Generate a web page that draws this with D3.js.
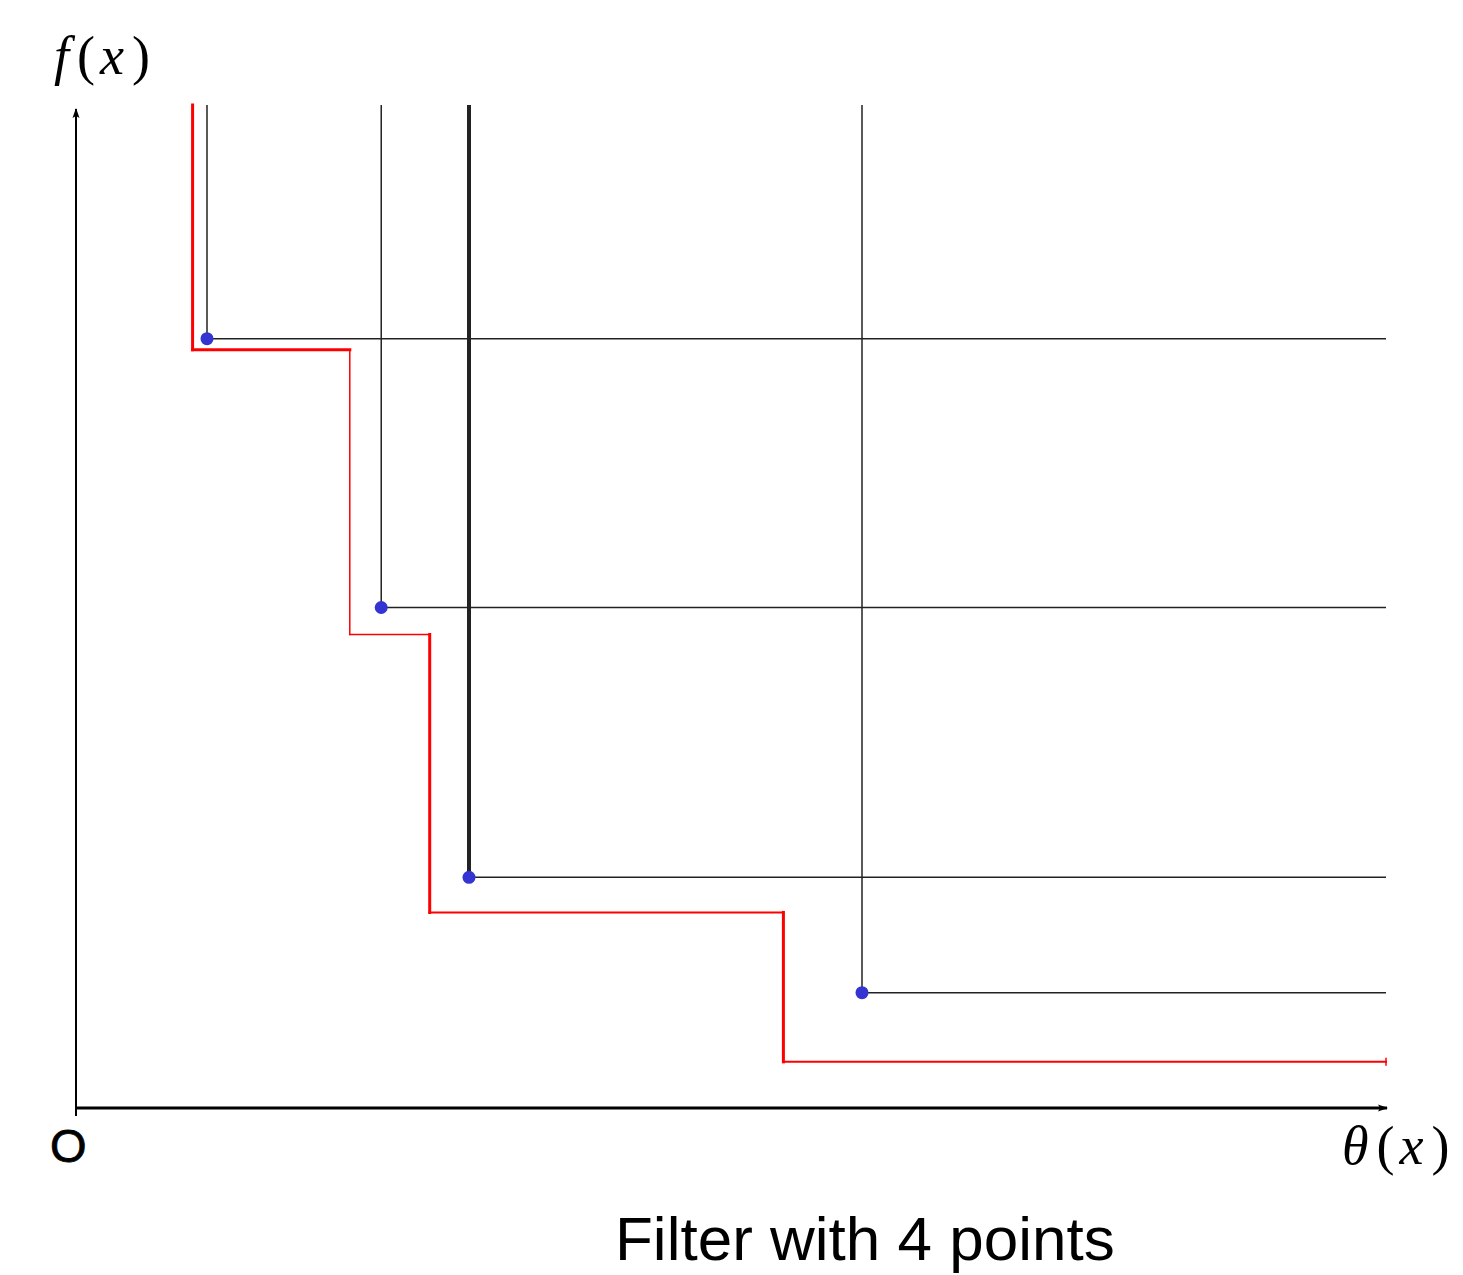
<!DOCTYPE html>
<html>
<head>
<meta charset="utf-8">
<script src="https://cdn.jsdelivr.net/npm/d3@7"></script>
<style>
  body { margin: 0; background: #fff; }
</style>
</head>
<body>
<div id="chart"></div>
<script>
// filter points (theta, f) in plot units
const pointTheta = [10, 23.3, 30, 60];
const pointF = [76.7, 49.9, 23.0, 11.5];
const pointStroke = [1.5, 1.5, 4, 1.5];

// red staircase (corner vertices)
const stepTheta = [8.9, 8.9, 20.9, 20.9, 27.0, 27.0, 54.0, 54.0, 100];
const stepF = [100, 75.6, 75.6, 47.2, 47.2, 19.5, 19.5, 4.6, 4.6];
const stepWidth = [3, 3, 1.5, 1.5, 3, 2, 3, 2];

const width = 1463, height = 1275;

const x = d3.scaleLinear().domain([0, 100]).range([76, 1386]);
const y = d3.scaleLinear().domain([0, 100]).range([1108, 105]);

const svg = d3.select("#chart").append("svg")
  .attr("width", width).attr("height", height);

svg.append("defs").append("marker")
  .attr("id", "arrow")
  .attr("viewBox", "0 0 10 8")
  .attr("refX", 9).attr("refY", 4)
  .attr("markerWidth", 10).attr("markerHeight", 8)
  .attr("markerUnits", "userSpaceOnUse")
  .attr("orient", "auto")
  .append("path").attr("d", "M0,0.5 L10,4 L0,7.5 L2,4 z").attr("fill", "#000");

// axes
svg.append("line")
  .attr("x1", x(0)).attr("y1", y(0) + 8)
  .attr("x2", x(0)).attr("y2", 109)
  .attr("stroke", "#000").attr("stroke-width", 2)
  .attr("marker-end", "url(#arrow)");
svg.append("line")
  .attr("x1", x(0)).attr("y1", y(0))
  .attr("x2", x(100) + 1).attr("y2", y(0))
  .attr("stroke", "#000").attr("stroke-width", 3)
  .attr("marker-end", "url(#arrow)");

// dominance lines from each point
const g = svg.append("g");
pointTheta.forEach((t, i) => {
  g.append("line")
    .attr("x1", x(t)).attr("y1", y(pointF[i]))
    .attr("x2", x(t)).attr("y2", y(100))
    .attr("stroke", "#222").attr("stroke-width", pointStroke[i]);
  g.append("line")
    .attr("x1", x(t)).attr("y1", y(pointF[i]))
    .attr("x2", x(100)).attr("y2", y(pointF[i]))
    .attr("stroke", "#222").attr("stroke-width", 1.5);
});

// red step
for (let i = 0; i < stepTheta.length - 1; i++) {
  svg.append("line")
    .attr("x1", x(stepTheta[i])).attr("y1", y(stepF[i]))
    .attr("x2", x(stepTheta[i + 1])).attr("y2", y(stepF[i + 1]))
    .attr("stroke", "#f00").attr("stroke-width", stepWidth[i])
    .attr("stroke-linecap", "square");
}
svg.append("line")
  .attr("x1", x(100)).attr("y1", y(4.6) - 4)
  .attr("x2", x(100)).attr("y2", y(4.6) + 4)
  .attr("stroke", "#f00").attr("stroke-width", 1.5);

// points
svg.selectAll("circle.pt")
  .data(pointTheta)
  .enter().append("circle")
    .attr("class", "pt")
    .attr("cx", d => x(d))
    .attr("cy", (d, i) => y(pointF[i]))
    .attr("r", 6.5)
    .attr("fill", "#3434d2");

// math labels: italic letters, upright parentheses
function mathLabel(x0, y0, head) {
  const t = svg.append("text")
    .attr("x", x0).attr("y", y0)
    .attr("font-family", "'Liberation Serif', serif")
    .attr("font-size", 54);
  t.append("tspan").attr("font-style", "italic").text(head);
  t.append("tspan").attr("dx", 8).text("(");
  t.append("tspan").attr("dx", 5).attr("font-style", "italic").text("x");
  t.append("tspan").attr("dx", 8).text(")");
}
mathLabel(54, 74, "f");
mathLabel(1342, 1164, "θ");

svg.append("text")
  .attr("x", 50).attr("y", 1162)
  .attr("font-family", "'Liberation Sans', Arial, sans-serif")
  .attr("font-size", 47)
  .attr("stroke", "#000").attr("stroke-width", 0.8)
  .text("O");
svg.append("text")
  .attr("x", 615).attr("y", 1260)
  .attr("font-family", "'Liberation Sans', Arial, sans-serif")
  .attr("font-size", 62)
  .text("Filter with 4 points");
</script>
</body>
</html>
